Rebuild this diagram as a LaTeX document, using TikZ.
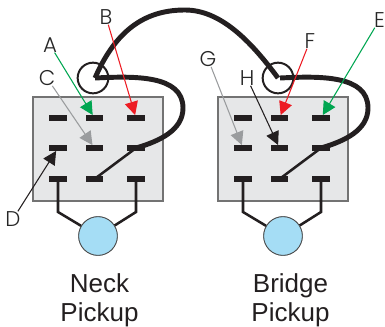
\documentclass[tikz,border=0pt]{standalone}
\usepackage{fontspec}
\setmainfont{Liberation Sans}
\newfontfamily\letterfont{Poppins Light}
\usetikzlibrary{arrows.meta}
\definecolor{xgreen}{HTML}{00A651}
\definecolor{xred}{HTML}{ED1C24}
\definecolor{xgray}{HTML}{9A9C9E}
\definecolor{xblack}{HTML}{231F20}
\definecolor{xbox}{HTML}{E6E7E8}
\definecolor{xblue}{HTML}{A5DDF5}
\tikzset{
  switchbox/.style = {draw=black!55, line width=1pt, fill=xbox},
  lug/.style = {draw=none, fill=xblack, rectangle, inner sep=0pt, minimum width=12.8pt, minimum height=4pt},
  ring/.style = {draw=xblack, line width=1.5pt, circle, inner sep=0pt, minimum size=23pt},
  pickup/.style = {draw=black!70, line width=0.6pt, fill=xblue, circle, inner sep=0pt, minimum size=29pt},
  wire/.style = {xblack, line width=3.7pt},
  leadwire/.style = {xblack, line width=1.9pt},
  letter/.style = {font=\letterfont\fontsize{16}{16}\selectfont, text=black!85, inner sep=0pt},
  pickuptext/.style = {font=\fontsize{19.5}{21.8}\selectfont, text=xblack, align=center, inner sep=0pt},
  pointer/.style = {#1, line width=0.8pt, -{Triangle[length=10pt, width=10pt]}},
}
\begin{document}
\begin{tikzpicture}[x=0.75pt, y=-0.75pt]
  \useasboundingbox (0,0) rectangle (385,326);

  \foreach \sw/\dx/\tx/\name in {n/0/99.5/Neck, b/185/290.5/Bridge} {
    \begin{scope}[shift={(\dx,0)}]
      \draw[switchbox] (33,97) rectangle (163,201);
      \foreach \col/\x in {1/58, 2/94.5, 3/136} {
        \foreach \row/\y in {1/118, 2/148, 3/179} {
          \node[lug] (\sw\row\col) at (\x,\y) {};
        }
      }
      \node[ring] (\sw ring) at (93,78) {};
      \node[pickup] (\sw pick) at (98,236) {};
      \draw[leadwire, line join=miter] (\sw31.center) -- ++(0,33) -- (\sw pick);
      \draw[leadwire, line join=miter] (\sw33.center) -- ++(0,33) -- (\sw pick);
      \node[pickup] at (98,236) {};
      \draw[leadwire] (\sw23.center) -- (\sw32.center);
      \draw[wire] (\sw ring.center) ++(2,0) .. controls ++(40,-2) and (183,75) .. (183,108) .. controls (183,130) and (160,141) .. (\sw23.center);
    \end{scope}
    \node[pickuptext] at (\tx,300.5) {\name\\Pickup};
  }

  % arch between the two rings
  \draw[wire] (nring.center) ++(2,0) .. controls (118,25) and (150,10) .. (185,10) .. controls (220,10) and (250,40) .. (bring.center);

  \node[letter] (la) at (50,45) {A};
  \node[letter] (lb) at (106,17) {B};
  \node[letter] (lc) at (47,78) {C};
  \node[letter] (ld) at (13,219) {D};
  \node[letter, anchor=east] (le) at (385,20) {E};
  \node[letter] (lf) at (310,41) {F};
  \node[letter] (lg) at (208,59) {G};
  \node[letter] (lh) at (247,78) {H};

  \draw[pointer=xgreen] (la) -- (n12);
  \draw[pointer=xred] (lb) -- (n13);
  \draw[pointer=xgray] (lc) -- (n22);
  \draw[pointer=xblack] (ld) -- (n21);
  \draw[pointer=xgreen] (le) -- (b13);
  \draw[pointer=xred] (lf) -- (b12);
  \draw[pointer=xgray] (lg) -- (b21);
  \draw[pointer=xblack] (lh) -- (b22);
\end{tikzpicture}
\end{document}
